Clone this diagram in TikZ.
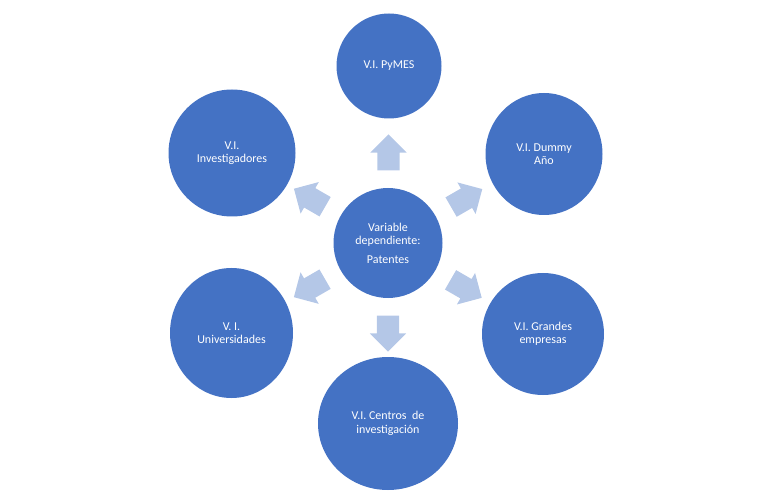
\documentclass[tikz,border=0pt]{standalone}
\usepackage{fontspec}
\setmainfont{Carlito}
\usetikzlibrary{positioning,calc}
\usetikzlibrary{shapes.geometric,shapes.arrows}
\definecolor{varblue}{HTML}{4472C4}
\definecolor{arrowblue}{HTML}{B4C7E7}
\tikzset{
        varnode/.style={align=center,inner sep=0pt,text=white,font=\fontsize{12}{13.5}\selectfont},
        % Dependent variable
        node_dep/.style={varnode, ellipse, fill=varblue, minimum width=109pt, minimum height=110pt},
        % Independent variables
        node_indep/.style={varnode, ellipse, fill=varblue},
        % Block arrows
        node_arrow/.style={single arrow, fill=arrowblue, inner xsep=0pt, inner ysep=11pt, single arrow head extend=7pt, minimum height=36pt, minimum width=36pt}
}
\begin{document}
\begin{tikzpicture}[x=1pt,y=1pt]
            \useasboundingbox (0,0) rectangle (772,499);
            \node[node_dep] (var) at (388,256) {Variable\\dependiente:\\[5pt]Patentes};
            \node[node_indep, minimum width=105pt, minimum height=105pt] (pymes) at (389,433) {V.I. PyMES};
            \node[node_indep, minimum width=127pt, minimum height=127pt] (invest) at (232,346) {V.I.\\Investigadores};
            \node[node_indep, minimum width=117pt, minimum height=122pt] (dummy) at (544,345) {V.I. Dummy\\Año};
            \node[node_indep, minimum width=123pt, minimum height=130pt] (univ) at (231.5,166) {V. I.\\Universidades};
            \node[node_indep, minimum width=140pt, minimum height=133pt] (centros) at (388,75.5) {V.I. Centros\ \ de\\investigación};
            \node[node_indep, minimum width=122pt, minimum height=122pt] (grandes) at (543,165) {V.I. Grandes\\empresas};
            % Arrows from the dependent variable
            \node[node_arrow, rotate=90] (a_pymes) at ($(var)!85pt!(pymes)$) {};
            \node[node_arrow, rotate=150] (a_invest) at ($(var)!85pt!(invest)$) {};
            \node[node_arrow, rotate=30] (a_dummy) at ($(var)!85pt!(dummy)$) {};
            \node[node_arrow, rotate=210] (a_univ) at ($(var)!85pt!(univ)$) {};
            \node[node_arrow, rotate=270] (a_centros) at ($(var)!85pt!(centros)$) {};
            \node[node_arrow, rotate=330] (a_grandes) at ($(var)!85pt!(grandes)$) {};
        \end{tikzpicture}
\end{document}
